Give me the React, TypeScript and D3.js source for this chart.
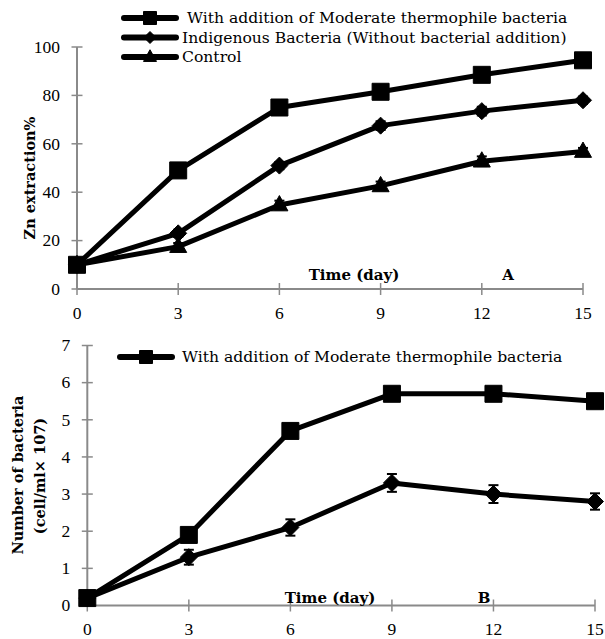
import React from "react";
import * as d3 from "d3";

const days = [0, 3, 6, 9, 12, 15];
const xTicks = [0, 3, 6, 9, 12, 15];

// Panel A: Zn extraction %
const seriesANames = [
  " With addition of Moderate thermophile bacteria",
  "Indigenous Bacteria (Without bacterial addition)",
  "Control",
];
const moderateA = [10, 49, 75, 81.5, 88.5, 94.5];
const indigenousA = [10, 23, 51, 67.5, 73.5, 78];
const controlA = [10, 17.5, 34.7, 42.6, 52.8, 56.8];
const errModerateA = [1, 1.5, 1.5, 1.5, 1.5, 1.5];
const errIndigenousA = [1, 1.5, 1.5, 1.8, 1.8, 1.5];
const errControlA = [1, 1.5, 1.8, 1.8, 2, 1.5];
const yTicksA = [0, 20, 40, 60, 80, 100];

// Panel B: number of bacteria
const seriesBNames = ["With addition of Moderate thermophile bacteria"];
const moderateB = [0.2, 1.9, 4.7, 5.7, 5.7, 5.5];
const indigenousB = [0.2, 1.3, 2.1, 3.3, 3.0, 2.8];
const errModerateB = [0.1, 0.1, 0.1, 0.1, 0.1, 0.1];
const errIndigenousB = [0.1, 0.2, 0.22, 0.24, 0.24, 0.22];
const yTicksB = [0, 1, 2, 3, 4, 5, 6, 7];

const SERIF = "'Liberation Serif', 'DejaVu Serif', serif";
const WIDE = "'DejaVu Serif', 'Liberation Serif', serif";
const AXIS = "#8a8a8a";

type Shape = "square" | "diamond" | "triangle";

function markerPath(shape: Shape, s: number): string {
  const h = s / 2;
  if (shape === "square") return `M${-h},${-h}H${h}V${h}H${-h}Z`;
  if (shape === "diamond") return `M0,${-h}L${h},0L0,${h}L${-h},0Z`;
  const th = s * 0.9;
  return `M0,${-th * 0.62}L${h},${th * 0.38}L${-h},${th * 0.38}Z`;
}

function Marker({ shape, x, y, s }: { shape: Shape; x: number; y: number; s: number }) {
  return <path d={markerPath(shape, s)} transform={`translate(${x},${y})`} fill="#000" stroke="#000" strokeWidth={1} />;
}

function Series({
  xs, ys, vals, errs, shape, size,
}: {
  xs: d3.ScaleLinear<number, number>;
  ys: d3.ScaleLinear<number, number>;
  vals: number[];
  errs: number[];
  shape: Shape;
  size: number;
}) {
  const line = d3.line<number>().x((_, i) => xs(days[i])).y((v) => ys(v));
  return (
    <g>
      {vals.map((v, i) => (
        <g key={"e" + i} stroke="#000" strokeWidth={2}>
          <line x1={xs(days[i])} x2={xs(days[i])} y1={ys(v - errs[i])} y2={ys(v + errs[i])} />
          <line x1={xs(days[i]) - 5} x2={xs(days[i]) + 5} y1={ys(v + errs[i])} y2={ys(v + errs[i])} />
          <line x1={xs(days[i]) - 5} x2={xs(days[i]) + 5} y1={ys(v - errs[i])} y2={ys(v - errs[i])} />
        </g>
      ))}
      <path d={line(vals) || ""} fill="none" stroke="#000" strokeWidth={5} strokeLinejoin="round" />
      {vals.map((v, i) => (
        <Marker key={"m" + i} shape={shape} x={xs(days[i])} y={ys(v)} s={size} />
      ))}
    </g>
  );
}

function Axes({
  xs, ys, yTicks, yFmt,
}: {
  xs: d3.ScaleLinear<number, number>;
  ys: d3.ScaleLinear<number, number>;
  yTicks: number[];
  yFmt: (v: number) => string;
}) {
  const x0 = xs.range()[0];
  const x1 = xs.range()[1];
  const y0 = ys.range()[0];
  const y1 = ys.range()[1];
  return (
    <g>
      <line x1={x0} x2={x0} y1={y0} y2={y1} stroke={AXIS} strokeWidth={2} />
      <line x1={x0} x2={x1} y1={y0} y2={y0} stroke={AXIS} strokeWidth={2} />
      {yTicks.map((t) => (
        <g key={"y" + t}>
          <line x1={x0 - 5.5} x2={x0 + 5.5} y1={ys(t)} y2={ys(t)} stroke={AXIS} strokeWidth={1.5} />
          <text x={x0 - 17} y={ys(t)} dy="0.33em" textAnchor="end" fontFamily={SERIF} fontSize={17.5} fill="#000">
            {yFmt(t)}
          </text>
        </g>
      ))}
      {xTicks.map((t) => (
        <g key={"x" + t}>
          <line x1={xs(t)} x2={xs(t)} y1={y0 - 6} y2={y0 + 6} stroke={AXIS} strokeWidth={1.5} />
          <text x={xs(t)} y={y0 + 24} dy="0.33em" textAnchor="middle" fontFamily={SERIF} fontSize={17.5} fill="#000">
            {t}
          </text>
        </g>
      ))}
    </g>
  );
}

function LegendRow({ x, y, shape, size, label, textX }: { x: number; y: number; shape: Shape; size: number; label: string; textX: number }) {
  return (
    <g>
      <line x1={x} x2={x + 52} y1={y} y2={y} stroke="#000" strokeWidth={6} strokeLinecap="round" />
      <Marker shape={shape} x={x + 26} y={y} s={size} />
      <text x={textX} y={y} dy="0.33em" fontFamily={WIDE} fontSize={15.6} fill="#000" style={{ whiteSpace: "pre" }}>
        {label}
      </text>
    </g>
  );
}

export default function App() {
  const xA = d3.scaleLinear().domain([0, 15]).range([77, 583]);
  const yA = d3.scaleLinear().domain([0, 100]).range([289, 47]);
  const xB = d3.scaleLinear().domain([0, 15]).range([87.3, 595]);
  const yB = d3.scaleLinear().domain([0, 7]).range([605.5, 345.5]);

  return (
    <svg width={605} height={639} style={{ position: "absolute", left: 0, top: 0, background: "#fff" }}>
      <rect width={605} height={639} fill="#fff" />
      {/* Panel A */}
      <Axes xs={xA} ys={yA} yTicks={yTicksA} yFmt={(v) => String(v)} />
      <Series xs={xA} ys={yA} vals={controlA} errs={errControlA} shape="triangle" size={17} />
      <Series xs={xA} ys={yA} vals={indigenousA} errs={errIndigenousA} shape="diamond" size={17} />
      <Series xs={xA} ys={yA} vals={moderateA} errs={errModerateA} shape="square" size={17} />
      <text x={354} y={275} dy="0.33em" textAnchor="middle" fontFamily={WIDE} fontWeight="bold" fontSize={15}>Time (day)</text>
      <text x={508} y={275} dy="0.33em" textAnchor="middle" fontFamily={WIDE} fontWeight="bold" fontSize={15}>A</text>
      <text transform="translate(30,178) rotate(-90)" textAnchor="middle" dy="0.33em" fontFamily={WIDE} fontWeight="bold" fontSize={14.5}>Zn extraction%</text>
      <LegendRow x={124} y={18} shape="square" size={13} label={seriesANames[0]} textX={182} />
      <LegendRow x={124} y={37.5} shape="diamond" size={12} label={seriesANames[1]} textX={182} />
      <LegendRow x={124} y={57} shape="triangle" size={13} label={seriesANames[2]} textX={182} />

      {/* Panel B */}
      <Axes xs={xB} ys={yB} yTicks={yTicksB} yFmt={(v) => String(v)} />
      <Series xs={xB} ys={yB} vals={indigenousB} errs={errIndigenousB} shape="diamond" size={17} />
      <Series xs={xB} ys={yB} vals={moderateB} errs={errModerateB} shape="square" size={17} />
      <text x={330} y={598} dy="0.33em" textAnchor="middle" fontFamily={WIDE} fontWeight="bold" fontSize={15}>Time (day)</text>
      <text x={484} y={598} dy="0.33em" textAnchor="middle" fontFamily={WIDE} fontWeight="bold" fontSize={15}>B</text>
      <text transform="translate(18,475) rotate(-90)" textAnchor="middle" dy="0.33em" fontFamily={WIDE} fontWeight="bold" fontSize={14.5}>Number of bacteria</text>
      <text transform="translate(40,476) rotate(-90)" textAnchor="middle" dy="0.33em" fontFamily={WIDE} fontWeight="bold" fontSize={14.5}>(cell/ml× 107)</text>
      <LegendRow x={120} y={357} shape="square" size={13} label={seriesBNames[0]} textX={182} />
    </svg>
  );
}
